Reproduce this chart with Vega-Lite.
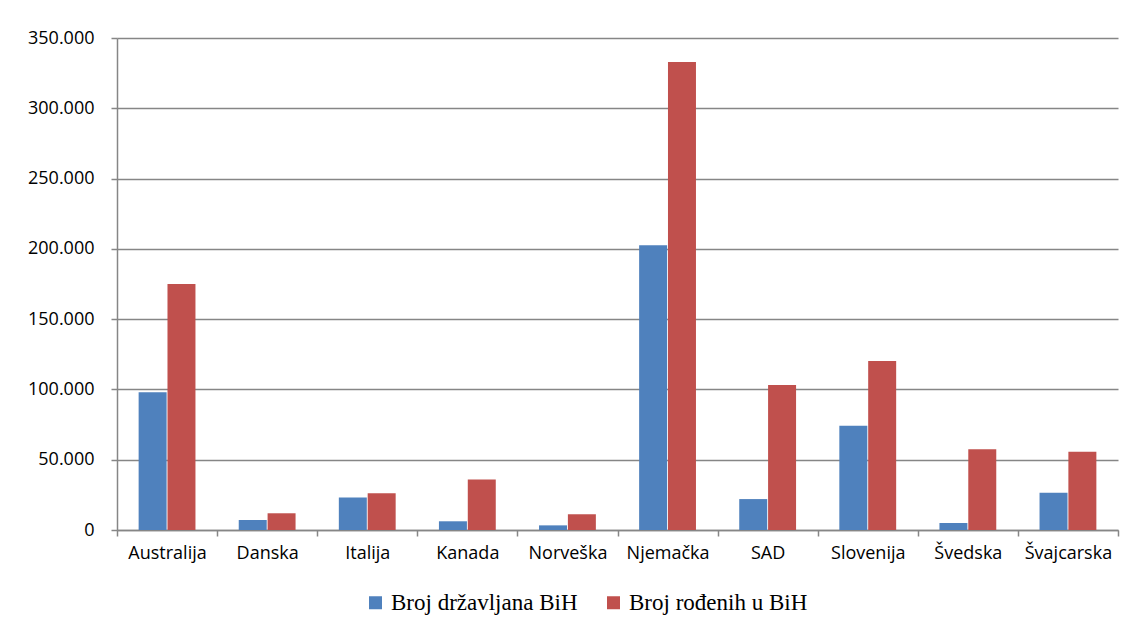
{
  "$schema": "https://vega.github.io/schema/vega-lite/v6.json",
  "width": 1001,
  "height": 492,
  "autosize": {"type": "none"},
  "padding": {"left": 117, "top": 38, "right": 17, "bottom": 102},
  "background": "white",
  "data": {
    "values": [
      {"zemlja": "Australija", "serija": "Broj državljana BiH", "vrijednost": 98000},
      {"zemlja": "Australija", "serija": "Broj rođenih u BiH", "vrijednost": 175000},
      {"zemlja": "Danska", "serija": "Broj državljana BiH", "vrijednost": 7100},
      {"zemlja": "Danska", "serija": "Broj rođenih u BiH", "vrijednost": 11900},
      {"zemlja": "Italija", "serija": "Broj državljana BiH", "vrijednost": 23200},
      {"zemlja": "Italija", "serija": "Broj rođenih u BiH", "vrijednost": 26100},
      {"zemlja": "Kanada", "serija": "Broj državljana BiH", "vrijednost": 6200},
      {"zemlja": "Kanada", "serija": "Broj rođenih u BiH", "vrijednost": 36000},
      {"zemlja": "Norveška", "serija": "Broj državljana BiH", "vrijednost": 3300},
      {"zemlja": "Norveška", "serija": "Broj rođenih u BiH", "vrijednost": 11200},
      {"zemlja": "Njemačka", "serija": "Broj državljana BiH", "vrijednost": 202500},
      {"zemlja": "Njemačka", "serija": "Broj rođenih u BiH", "vrijednost": 333000},
      {"zemlja": "SAD", "serija": "Broj državljana BiH", "vrijednost": 22000},
      {"zemlja": "SAD", "serija": "Broj rođenih u BiH", "vrijednost": 103100},
      {"zemlja": "Slovenija", "serija": "Broj državljana BiH", "vrijednost": 74200},
      {"zemlja": "Slovenija", "serija": "Broj rođenih u BiH", "vrijednost": 120200},
      {"zemlja": "Švedska", "serija": "Broj državljana BiH", "vrijednost": 5000},
      {"zemlja": "Švedska", "serija": "Broj rođenih u BiH", "vrijednost": 57400},
      {"zemlja": "Švajcarska", "serija": "Broj državljana BiH", "vrijednost": 26500},
      {"zemlja": "Švajcarska", "serija": "Broj rođenih u BiH", "vrijednost": 55700}
    ]
  },
  "mark": {"type": "bar"},
  "encoding": {
    "x": {
      "field": "zemlja",
      "type": "nominal",
      "sort": null,
      "scale": {"paddingInner": 0, "paddingOuter": 0},
      "axis": {
        "title": null,
        "labelAngle": 0,
        "tickBand": "extent",
        "labelFont": "Open Sans",
        "labelFontSize": 18,
        "labelColor": "black",
        "domainColor": "#868686",
        "domainWidth": 1.5,
        "tickColor": "#868686",
        "tickWidth": 1.5,
        "tickSize": 6,
        "labelPadding": 8,
        "grid": false
      }
    },
    "xOffset": {
      "field": "serija",
      "type": "nominal",
      "sort": null,
      "scale": {"domain": ["Broj državljana BiH", "Broj rođenih u BiH"], "paddingInner": 0.03, "paddingOuter": 0.75}
    },
    "y": {
      "field": "vrijednost",
      "type": "quantitative",
      "scale": {"domain": [0, 350000], "nice": false},
      "axis": {
        "title": null,
        "values": [0, 50000, 100000, 150000, 200000, 250000, 300000, 350000],
        "labelExpr": "replace(format(datum.value, ',d'), ',', '.')",
        "labelFont": "Open Sans",
        "labelFontSize": 18,
        "labelColor": "black",
        "labelPadding": 17,
        "tickSize": 6,
        "tickColor": "#868686",
        "tickWidth": 1.5,
        "domainColor": "#868686",
        "domainWidth": 1.5,
        "gridColor": "#868686",
        "gridWidth": 1.5
      }
    },
    "color": {
      "field": "serija",
      "type": "nominal",
      "sort": null,
      "scale": {"domain": ["Broj državljana BiH", "Broj rođenih u BiH"], "range": ["#4F81BD", "#C0504D"]},
      "legend": {
        "title": null,
        "orient": "none",
        "direction": "horizontal",
        "legendX": 247,
        "legendY": 553,
        "padding": 0,
        "symbolType": "square",
        "symbolSize": 169,
        "symbolStrokeWidth": 0,
        "labelFont": "Liberation Serif",
        "labelFontSize": 23,
        "labelColor": "black",
        "labelLimit": 400,
        "labelOffset": 4,
        "columnPadding": 24
      }
    }
  },
  "config": {"view": {"stroke": null}}
}
